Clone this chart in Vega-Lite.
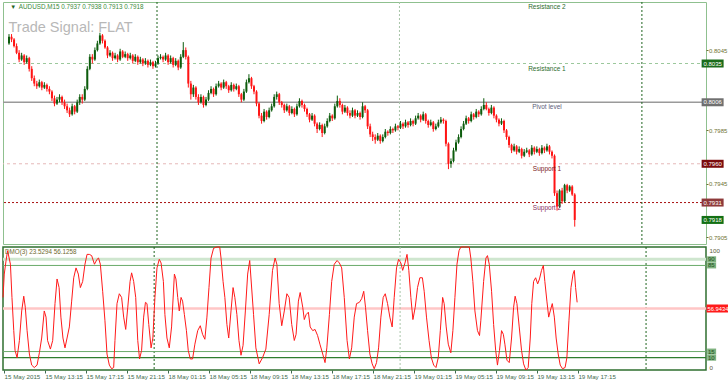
{
"$schema": "https://vega.github.io/schema/vega-lite/v6.json",
"padding": {"left": 0, "top": 1, "right": 0, "bottom": 0},
"autosize": {"type": "pad"},
"spacing": 3,
"bounds": "flush",
"background": "white",
"config": {"font": "Liberation Sans", "view": {"stroke": null}},
"resolve": {"scale": {"color": "independent", "strokeWidth": "independent"}},
"datasets": {
"candles": [
{"i":0,"o":0.8050,"h":0.8057,"l":0.8049,"c":0.8055},
{"i":1,"o":0.8055,"h":0.8057,"l":0.8051,"c":0.8053},
{"i":2,"o":0.8053,"h":0.8054,"l":0.8047,"c":0.8048},
{"i":3,"o":0.8048,"h":0.8050,"l":0.8042,"c":0.8043},
{"i":4,"o":0.8043,"h":0.8045,"l":0.8036,"c":0.8038},
{"i":5,"o":0.8038,"h":0.8043,"l":0.8037,"c":0.8041},
{"i":6,"o":0.8041,"h":0.8042,"l":0.8034,"c":0.8036},
{"i":7,"o":0.8036,"h":0.8041,"l":0.8035,"c":0.8039},
{"i":8,"o":0.8039,"h":0.8040,"l":0.8029,"c":0.8031},
{"i":9,"o":0.8031,"h":0.8033,"l":0.8022,"c":0.8024},
{"i":10,"o":0.8024,"h":0.8026,"l":0.8018,"c":0.8020},
{"i":11,"o":0.8020,"h":0.8022,"l":0.8016,"c":0.8018},
{"i":12,"o":0.8018,"h":0.8023,"l":0.8017,"c":0.8021},
{"i":13,"o":0.8021,"h":0.8022,"l":0.8015,"c":0.8017},
{"i":14,"o":0.8017,"h":0.8021,"l":0.8016,"c":0.8019},
{"i":15,"o":0.8019,"h":0.8020,"l":0.8014,"c":0.8016},
{"i":16,"o":0.8016,"h":0.8018,"l":0.8012,"c":0.8014},
{"i":17,"o":0.8014,"h":0.8015,"l":0.8007,"c":0.8009},
{"i":18,"o":0.8009,"h":0.8011,"l":0.8003,"c":0.8005},
{"i":19,"o":0.8005,"h":0.8010,"l":0.8004,"c":0.8008},
{"i":20,"o":0.8008,"h":0.8012,"l":0.8006,"c":0.8010},
{"i":21,"o":0.8010,"h":0.8011,"l":0.8004,"c":0.8006},
{"i":22,"o":0.8006,"h":0.8008,"l":0.8001,"c":0.8003},
{"i":23,"o":0.8003,"h":0.8005,"l":0.7998,"c":0.8000},
{"i":24,"o":0.8000,"h":0.8002,"l":0.7995,"c":0.7997},
{"i":25,"o":0.7997,"h":0.8005,"l":0.7996,"c":0.8003},
{"i":26,"o":0.8003,"h":0.8004,"l":0.7997,"c":0.7999},
{"i":27,"o":0.7999,"h":0.8008,"l":0.7998,"c":0.8006},
{"i":28,"o":0.8006,"h":0.8012,"l":0.8004,"c":0.8010},
{"i":29,"o":0.8010,"h":0.8012,"l":0.8005,"c":0.8008},
{"i":30,"o":0.8008,"h":0.8018,"l":0.8007,"c":0.8016},
{"i":31,"o":0.8016,"h":0.8033,"l":0.8015,"c":0.8031},
{"i":32,"o":0.8031,"h":0.8042,"l":0.8030,"c":0.8040},
{"i":33,"o":0.8040,"h":0.8042,"l":0.8035,"c":0.8038},
{"i":34,"o":0.8038,"h":0.8047,"l":0.8037,"c":0.8045},
{"i":35,"o":0.8045,"h":0.8052,"l":0.8044,"c":0.8050},
{"i":36,"o":0.8050,"h":0.8058,"l":0.8049,"c":0.8056},
{"i":37,"o":0.8056,"h":0.8057,"l":0.8050,"c":0.8052},
{"i":38,"o":0.8052,"h":0.8053,"l":0.8046,"c":0.8047},
{"i":39,"o":0.8047,"h":0.8048,"l":0.8039,"c":0.8041},
{"i":40,"o":0.8041,"h":0.8045,"l":0.8040,"c":0.8043},
{"i":41,"o":0.8043,"h":0.8044,"l":0.8037,"c":0.8039},
{"i":42,"o":0.8039,"h":0.8043,"l":0.8038,"c":0.8041},
{"i":43,"o":0.8041,"h":0.8042,"l":0.8036,"c":0.8038},
{"i":44,"o":0.8038,"h":0.8046,"l":0.8037,"c":0.8044},
{"i":45,"o":0.8044,"h":0.8045,"l":0.8039,"c":0.8040},
{"i":46,"o":0.8040,"h":0.8044,"l":0.8039,"c":0.8042},
{"i":47,"o":0.8042,"h":0.8043,"l":0.8037,"c":0.8039},
{"i":48,"o":0.8039,"h":0.8043,"l":0.8038,"c":0.8041},
{"i":49,"o":0.8041,"h":0.8042,"l":0.8035,"c":0.8037},
{"i":50,"o":0.8037,"h":0.8042,"l":0.8036,"c":0.8040},
{"i":51,"o":0.8040,"h":0.8041,"l":0.8034,"c":0.8036},
{"i":52,"o":0.8036,"h":0.8040,"l":0.8035,"c":0.8038},
{"i":53,"o":0.8038,"h":0.8039,"l":0.8033,"c":0.8035},
{"i":54,"o":0.8035,"h":0.8039,"l":0.8034,"c":0.8037},
{"i":55,"o":0.8037,"h":0.8038,"l":0.8032,"c":0.8034},
{"i":56,"o":0.8034,"h":0.8038,"l":0.8033,"c":0.8036},
{"i":57,"o":0.8036,"h":0.8037,"l":0.8031,"c":0.8033},
{"i":58,"o":0.8033,"h":0.8037,"l":0.8032,"c":0.8035},
{"i":59,"o":0.8035,"h":0.8041,"l":0.8034,"c":0.8039},
{"i":60,"o":0.8039,"h":0.8042,"l":0.8038,"c":0.8040},
{"i":61,"o":0.8040,"h":0.8041,"l":0.8036,"c":0.8038},
{"i":62,"o":0.8038,"h":0.8043,"l":0.8037,"c":0.8041},
{"i":63,"o":0.8041,"h":0.8042,"l":0.8034,"c":0.8036},
{"i":64,"o":0.8036,"h":0.8041,"l":0.8035,"c":0.8039},
{"i":65,"o":0.8039,"h":0.8040,"l":0.8032,"c":0.8034},
{"i":66,"o":0.8034,"h":0.8039,"l":0.8033,"c":0.8037},
{"i":67,"o":0.8037,"h":0.8038,"l":0.8030,"c":0.8032},
{"i":68,"o":0.8032,"h":0.8042,"l":0.8031,"c":0.8040},
{"i":69,"o":0.8040,"h":0.8051,"l":0.8039,"c":0.8045},
{"i":70,"o":0.8045,"h":0.8047,"l":0.8038,"c":0.8040},
{"i":71,"o":0.8040,"h":0.8041,"l":0.8017,"c":0.8020},
{"i":72,"o":0.8020,"h":0.8022,"l":0.8008,"c":0.8012},
{"i":73,"o":0.8012,"h":0.8019,"l":0.8010,"c":0.8017},
{"i":74,"o":0.8017,"h":0.8018,"l":0.8008,"c":0.8010},
{"i":75,"o":0.8010,"h":0.8012,"l":0.8004,"c":0.8006},
{"i":76,"o":0.8006,"h":0.8012,"l":0.8005,"c":0.8010},
{"i":77,"o":0.8010,"h":0.8011,"l":0.8002,"c":0.8004},
{"i":78,"o":0.8004,"h":0.8010,"l":0.8003,"c":0.8008},
{"i":79,"o":0.8008,"h":0.8015,"l":0.8007,"c":0.8013},
{"i":80,"o":0.8013,"h":0.8018,"l":0.8012,"c":0.8016},
{"i":81,"o":0.8016,"h":0.8017,"l":0.8010,"c":0.8012},
{"i":82,"o":0.8012,"h":0.8020,"l":0.8011,"c":0.8018},
{"i":83,"o":0.8018,"h":0.8022,"l":0.8017,"c":0.8020},
{"i":84,"o":0.8020,"h":0.8021,"l":0.8015,"c":0.8017},
{"i":85,"o":0.8017,"h":0.8023,"l":0.8016,"c":0.8021},
{"i":86,"o":0.8021,"h":0.8022,"l":0.8016,"c":0.8018},
{"i":87,"o":0.8018,"h":0.8019,"l":0.8013,"c":0.8015},
{"i":88,"o":0.8015,"h":0.8021,"l":0.8014,"c":0.8019},
{"i":89,"o":0.8019,"h":0.8020,"l":0.8014,"c":0.8016},
{"i":90,"o":0.8016,"h":0.8020,"l":0.8015,"c":0.8018},
{"i":91,"o":0.8018,"h":0.8019,"l":0.8010,"c":0.8012},
{"i":92,"o":0.8012,"h":0.8013,"l":0.8006,"c":0.8008},
{"i":93,"o":0.8008,"h":0.8016,"l":0.8007,"c":0.8014},
{"i":94,"o":0.8014,"h":0.8023,"l":0.8013,"c":0.8021},
{"i":95,"o":0.8021,"h":0.8027,"l":0.8020,"c":0.8024},
{"i":96,"o":0.8024,"h":0.8025,"l":0.8016,"c":0.8018},
{"i":97,"o":0.8018,"h":0.8019,"l":0.8012,"c":0.8014},
{"i":98,"o":0.8014,"h":0.8015,"l":0.8003,"c":0.8005},
{"i":99,"o":0.8005,"h":0.8006,"l":0.7994,"c":0.7996},
{"i":100,"o":0.7996,"h":0.7998,"l":0.7990,"c":0.7992},
{"i":101,"o":0.7992,"h":0.8001,"l":0.7991,"c":0.7999},
{"i":102,"o":0.7999,"h":0.8000,"l":0.7993,"c":0.7995},
{"i":103,"o":0.7995,"h":0.8002,"l":0.7994,"c":0.8000},
{"i":104,"o":0.8000,"h":0.8005,"l":0.7999,"c":0.8003},
{"i":105,"o":0.8003,"h":0.8012,"l":0.8002,"c":0.8010},
{"i":106,"o":0.8010,"h":0.8014,"l":0.8008,"c":0.8012},
{"i":107,"o":0.8012,"h":0.8013,"l":0.8004,"c":0.8006},
{"i":108,"o":0.8006,"h":0.8007,"l":0.8002,"c":0.8004},
{"i":109,"o":0.8004,"h":0.8005,"l":0.7998,"c":0.8000},
{"i":110,"o":0.8000,"h":0.8005,"l":0.7999,"c":0.8003},
{"i":111,"o":0.8003,"h":0.8004,"l":0.7996,"c":0.7998},
{"i":112,"o":0.7998,"h":0.8003,"l":0.7997,"c":0.8001},
{"i":113,"o":0.8001,"h":0.8002,"l":0.7995,"c":0.7997},
{"i":114,"o":0.7997,"h":0.8005,"l":0.7996,"c":0.8003},
{"i":115,"o":0.8003,"h":0.8009,"l":0.8002,"c":0.8007},
{"i":116,"o":0.8007,"h":0.8008,"l":0.8002,"c":0.8004},
{"i":117,"o":0.8004,"h":0.8005,"l":0.7999,"c":0.8001},
{"i":118,"o":0.8001,"h":0.8002,"l":0.7995,"c":0.7997},
{"i":119,"o":0.7997,"h":0.7998,"l":0.7991,"c":0.7993},
{"i":120,"o":0.7993,"h":0.7998,"l":0.7992,"c":0.7996},
{"i":121,"o":0.7996,"h":0.7997,"l":0.7988,"c":0.7990},
{"i":122,"o":0.7990,"h":0.7991,"l":0.7983,"c":0.7986},
{"i":123,"o":0.7986,"h":0.7991,"l":0.7985,"c":0.7989},
{"i":124,"o":0.7989,"h":0.7990,"l":0.7980,"c":0.7983},
{"i":125,"o":0.7983,"h":0.7990,"l":0.7982,"c":0.7988},
{"i":126,"o":0.7988,"h":0.7994,"l":0.7987,"c":0.7992},
{"i":127,"o":0.7992,"h":0.7998,"l":0.7991,"c":0.7996},
{"i":128,"o":0.7996,"h":0.7997,"l":0.7992,"c":0.7994},
{"i":129,"o":0.7994,"h":0.8005,"l":0.7993,"c":0.8003},
{"i":130,"o":0.8003,"h":0.8011,"l":0.8002,"c":0.8007},
{"i":131,"o":0.8007,"h":0.8009,"l":0.8002,"c":0.8004},
{"i":132,"o":0.8004,"h":0.8005,"l":0.7997,"c":0.7999},
{"i":133,"o":0.7999,"h":0.8004,"l":0.7998,"c":0.8002},
{"i":134,"o":0.8002,"h":0.8003,"l":0.7996,"c":0.7998},
{"i":135,"o":0.7998,"h":0.8000,"l":0.7994,"c":0.7996},
{"i":136,"o":0.7996,"h":0.8002,"l":0.7995,"c":0.8000},
{"i":137,"o":0.8000,"h":0.8001,"l":0.7994,"c":0.7996},
{"i":138,"o":0.7996,"h":0.8000,"l":0.7995,"c":0.7998},
{"i":139,"o":0.7998,"h":0.7999,"l":0.7993,"c":0.7995},
{"i":140,"o":0.7995,"h":0.8006,"l":0.7994,"c":0.8003},
{"i":141,"o":0.8003,"h":0.8004,"l":0.7998,"c":0.8000},
{"i":142,"o":0.8000,"h":0.8001,"l":0.7986,"c":0.7988},
{"i":143,"o":0.7988,"h":0.7990,"l":0.7980,"c":0.7982},
{"i":144,"o":0.7982,"h":0.7984,"l":0.7977,"c":0.7980},
{"i":145,"o":0.7980,"h":0.7982,"l":0.7975,"c":0.7978},
{"i":146,"o":0.7978,"h":0.7983,"l":0.7977,"c":0.7981},
{"i":147,"o":0.7981,"h":0.7982,"l":0.7975,"c":0.7977},
{"i":148,"o":0.7977,"h":0.7982,"l":0.7976,"c":0.7980},
{"i":149,"o":0.7980,"h":0.7986,"l":0.7979,"c":0.7984},
{"i":150,"o":0.7984,"h":0.7985,"l":0.7981,"c":0.7983},
{"i":151,"o":0.7983,"h":0.7988,"l":0.7982,"c":0.7986},
{"i":152,"o":0.7986,"h":0.7987,"l":0.7983,"c":0.7985},
{"i":153,"o":0.7985,"h":0.7990,"l":0.7984,"c":0.7988},
{"i":154,"o":0.7988,"h":0.7989,"l":0.7985,"c":0.7987},
{"i":155,"o":0.7987,"h":0.7992,"l":0.7986,"c":0.7990},
{"i":156,"o":0.7990,"h":0.7991,"l":0.7986,"c":0.7988},
{"i":157,"o":0.7988,"h":0.7993,"l":0.7987,"c":0.7991},
{"i":158,"o":0.7991,"h":0.7992,"l":0.7987,"c":0.7989},
{"i":159,"o":0.7989,"h":0.7994,"l":0.7988,"c":0.7992},
{"i":160,"o":0.7992,"h":0.7993,"l":0.7988,"c":0.7990},
{"i":161,"o":0.7990,"h":0.7996,"l":0.7989,"c":0.7994},
{"i":162,"o":0.7994,"h":0.7998,"l":0.7993,"c":0.7996},
{"i":163,"o":0.7996,"h":0.7997,"l":0.7991,"c":0.7993},
{"i":164,"o":0.7993,"h":0.7999,"l":0.7992,"c":0.7997},
{"i":165,"o":0.7997,"h":0.7998,"l":0.7990,"c":0.7992},
{"i":166,"o":0.7992,"h":0.7993,"l":0.7987,"c":0.7989},
{"i":167,"o":0.7989,"h":0.7993,"l":0.7988,"c":0.7991},
{"i":168,"o":0.7991,"h":0.7992,"l":0.7984,"c":0.7986},
{"i":169,"o":0.7986,"h":0.7990,"l":0.7985,"c":0.7988},
{"i":170,"o":0.7988,"h":0.7993,"l":0.7987,"c":0.7991},
{"i":171,"o":0.7991,"h":0.7995,"l":0.7990,"c":0.7993},
{"i":172,"o":0.7993,"h":0.7994,"l":0.7990,"c":0.7992},
{"i":173,"o":0.7992,"h":0.7993,"l":0.7973,"c":0.7975},
{"i":174,"o":0.7975,"h":0.7976,"l":0.7956,"c":0.7960},
{"i":175,"o":0.7960,"h":0.7964,"l":0.7957,"c":0.7962},
{"i":176,"o":0.7962,"h":0.7972,"l":0.7961,"c":0.7970},
{"i":177,"o":0.7970,"h":0.7978,"l":0.7969,"c":0.7976},
{"i":178,"o":0.7976,"h":0.7982,"l":0.7975,"c":0.7980},
{"i":179,"o":0.7980,"h":0.7988,"l":0.7979,"c":0.7986},
{"i":180,"o":0.7986,"h":0.7992,"l":0.7985,"c":0.7990},
{"i":181,"o":0.7990,"h":0.7996,"l":0.7989,"c":0.7994},
{"i":182,"o":0.7994,"h":0.7995,"l":0.7990,"c":0.7992},
{"i":183,"o":0.7992,"h":0.7999,"l":0.7991,"c":0.7997},
{"i":184,"o":0.7997,"h":0.7998,"l":0.7993,"c":0.7995},
{"i":185,"o":0.7995,"h":0.8001,"l":0.7994,"c":0.7999},
{"i":186,"o":0.7999,"h":0.8000,"l":0.7995,"c":0.7997},
{"i":187,"o":0.7997,"h":0.8003,"l":0.7996,"c":0.8001},
{"i":188,"o":0.8001,"h":0.8009,"l":0.8000,"c":0.8004},
{"i":189,"o":0.8004,"h":0.8006,"l":0.8000,"c":0.8001},
{"i":190,"o":0.8001,"h":0.8002,"l":0.7996,"c":0.7998},
{"i":191,"o":0.7998,"h":0.8004,"l":0.7997,"c":0.8002},
{"i":192,"o":0.8002,"h":0.8003,"l":0.7994,"c":0.7996},
{"i":193,"o":0.7996,"h":0.7997,"l":0.7991,"c":0.7993},
{"i":194,"o":0.7993,"h":0.7994,"l":0.7988,"c":0.7990},
{"i":195,"o":0.7990,"h":0.7994,"l":0.7989,"c":0.7992},
{"i":196,"o":0.7992,"h":0.7993,"l":0.7983,"c":0.7985},
{"i":197,"o":0.7985,"h":0.7986,"l":0.7978,"c":0.7980},
{"i":198,"o":0.7980,"h":0.7981,"l":0.7972,"c":0.7974},
{"i":199,"o":0.7974,"h":0.7975,"l":0.7968,"c":0.7970},
{"i":200,"o":0.7970,"h":0.7975,"l":0.7969,"c":0.7973},
{"i":201,"o":0.7973,"h":0.7974,"l":0.7967,"c":0.7969},
{"i":202,"o":0.7969,"h":0.7973,"l":0.7968,"c":0.7971},
{"i":203,"o":0.7971,"h":0.7972,"l":0.7964,"c":0.7966},
{"i":204,"o":0.7966,"h":0.7971,"l":0.7965,"c":0.7969},
{"i":205,"o":0.7969,"h":0.7972,"l":0.7968,"c":0.7970},
{"i":206,"o":0.7970,"h":0.7971,"l":0.7965,"c":0.7967},
{"i":207,"o":0.7967,"h":0.7974,"l":0.7966,"c":0.7972},
{"i":208,"o":0.7972,"h":0.7973,"l":0.7967,"c":0.7969},
{"i":209,"o":0.7969,"h":0.7973,"l":0.7968,"c":0.7971},
{"i":210,"o":0.7971,"h":0.7972,"l":0.7966,"c":0.7968},
{"i":211,"o":0.7968,"h":0.7974,"l":0.7967,"c":0.7972},
{"i":212,"o":0.7972,"h":0.7973,"l":0.7968,"c":0.7970},
{"i":213,"o":0.7970,"h":0.7975,"l":0.7969,"c":0.7973},
{"i":214,"o":0.7973,"h":0.7974,"l":0.7967,"c":0.7969},
{"i":215,"o":0.7969,"h":0.7970,"l":0.7964,"c":0.7966},
{"i":216,"o":0.7966,"h":0.7967,"l":0.7936,"c":0.7938},
{"i":217,"o":0.7938,"h":0.7940,"l":0.7925,"c":0.7928},
{"i":218,"o":0.7928,"h":0.7941,"l":0.7927,"c":0.7940},
{"i":219,"o":0.7940,"h":0.7942,"l":0.7930,"c":0.7932},
{"i":220,"o":0.7932,"h":0.7945,"l":0.7931,"c":0.7944},
{"i":221,"o":0.7944,"h":0.7945,"l":0.7938,"c":0.7940},
{"i":222,"o":0.7940,"h":0.7944,"l":0.7939,"c":0.7943},
{"i":223,"o":0.7943,"h":0.7944,"l":0.7936,"c":0.7937},
{"i":224,"o":0.7937,"h":0.7938,"l":0.7913,"c":0.7918}
],
"osc": [
{"t":-0.4,"v":59},{"t":0.1,"v":78},{"t":0.8,"v":89},{"t":1.4,"v":97},{"t":2.5,"v":86},{"t":3.1,"v":59},{"t":3.8,"v":32},{"t":4.3,"v":16},{"t":5.1,"v":10},{"t":6.0,"v":24},{"t":6.9,"v":48},{"t":7.7,"v":60},{"t":8.3,"v":51},{"t":9.0,"v":32},{"t":9.9,"v":13},{"t":10.8,"v":4},{"t":11.8,"v":2},{"t":12.9,"v":4},{"t":13.8,"v":14},{"t":14.7,"v":26},{"t":15.7,"v":48},{"t":16.4,"v":43},{"t":17.0,"v":24},{"t":18.1,"v":17},{"t":19.0,"v":24},{"t":19.9,"v":54},{"t":20.7,"v":74},{"t":21.5,"v":67},{"t":22.2,"v":43},{"t":23.0,"v":26},{"t":23.8,"v":18},{"t":24.6,"v":26},{"t":25.5,"v":35},{"t":26.4,"v":56},{"t":27.2,"v":75},{"t":28.1,"v":83},{"t":29.0,"v":78},{"t":29.8,"v":67},{"t":30.7,"v":72},{"t":31.6,"v":86},{"t":32.4,"v":94},{"t":33.3,"v":94},{"t":34.2,"v":93},{"t":35.3,"v":86},{"t":36.3,"v":90},{"t":36.9,"v":91},{"t":37.6,"v":86},{"t":38.5,"v":64},{"t":39.4,"v":40},{"t":40.2,"v":13},{"t":41.1,"v":4},{"t":42.0,"v":1},{"t":42.8,"v":2},{"t":43.3,"v":24},{"t":44.1,"v":54},{"t":45.0,"v":62},{"t":45.9,"v":59},{"t":46.7,"v":43},{"t":47.5,"v":33},{"t":48.3,"v":51},{"t":49.2,"v":72},{"t":49.8,"v":79},{"t":50.6,"v":72},{"t":51.4,"v":59},{"t":52.2,"v":24},{"t":52.9,"v":9},{"t":53.7,"v":16},{"t":54.5,"v":43},{"t":55.2,"v":55},{"t":55.8,"v":54},{"t":56.5,"v":37},{"t":57.4,"v":18},{"t":58.1,"v":26},{"t":58.9,"v":59},{"t":59.7,"v":83},{"t":60.6,"v":90},{"t":61.3,"v":87},{"t":62.2,"v":72},{"t":62.8,"v":45},{"t":63.6,"v":26},{"t":64.5,"v":18},{"t":65.4,"v":35},{"t":66.5,"v":78},{"t":67.1,"v":74},{"t":67.8,"v":59},{"t":68.4,"v":48},{"t":69.1,"v":59},{"t":69.7,"v":56},{"t":70.4,"v":45},{"t":71.2,"v":32},{"t":71.9,"v":16},{"t":72.7,"v":9},{"t":73.6,"v":9},{"t":74.5,"v":21},{"t":75.6,"v":32},{"t":76.6,"v":36},{"t":77.5,"v":29},{"t":78.4,"v":25},{"t":79.2,"v":43},{"t":80.0,"v":67},{"t":80.8,"v":91},{"t":81.8,"v":99},{"t":83.1,"v":100},{"t":84.2,"v":100},{"t":84.7,"v":91},{"t":85.5,"v":72},{"t":86.2,"v":59},{"t":87.0,"v":37},{"t":87.7,"v":26},{"t":88.6,"v":48},{"t":89.4,"v":67},{"t":90.1,"v":59},{"t":90.9,"v":45},{"t":91.7,"v":24},{"t":92.5,"v":12},{"t":93.3,"v":20},{"t":94.2,"v":48},{"t":95.1,"v":78},{"t":95.9,"v":89},
{"t":97.4,"v":45},{"t":98.3,"v":18},{"t":99.6,"v":5},{"t":100.9,"v":10},{"t":102.2,"v":17},{"t":103.5,"v":45},{"t":104.8,"v":81},{"t":105.8,"v":91},{"t":106.5,"v":86},{"t":107.4,"v":54},{"t":108.4,"v":36},{"t":109.4,"v":48},{"t":110.4,"v":62},{"t":111.3,"v":59},{"t":112.3,"v":37},{"t":113.3,"v":24},{"t":114.0,"v":29},{"t":114.9,"v":56},{"t":115.6,"v":63},{"t":116.6,"v":51},{"t":117.2,"v":41},{"t":117.9,"v":45},{"t":118.8,"v":47},{"t":119.5,"v":35},{"t":120.5,"v":32},{"t":121.4,"v":33},{"t":122.4,"v":28},{"t":123.3,"v":21},{"t":124.4,"v":13},{"t":125.3,"v":6},{"t":126.0,"v":18},{"t":127.0,"v":45},{"t":127.9,"v":72},{"t":128.9,"v":86},{"t":130.0,"v":89},{"t":130.9,"v":87},{"t":131.8,"v":83},{"t":132.8,"v":59},{"t":133.9,"v":24},{"t":134.8,"v":9},{"t":135.7,"v":18},{"t":136.7,"v":43},{"t":137.6,"v":54},{"t":138.7,"v":55},{"t":139.6,"v":58},{"t":140.4,"v":64},{"t":141.1,"v":51},{"t":141.9,"v":32},{"t":142.8,"v":13},{"t":143.7,"v":5},{"t":144.5,"v":1},{"t":145.4,"v":6},{"t":146.2,"v":18},{"t":147.1,"v":43},{"t":148.0,"v":59},{"t":148.8,"v":62},{"t":149.7,"v":54},{"t":150.6,"v":43},{"t":151.5,"v":35},{"t":152.3,"v":59},{"t":153.2,"v":83},{"t":154.0,"v":90},{"t":154.9,"v":87},{"t":155.6,"v":81},{"t":156.5,"v":87},{"t":157.3,"v":94},{"t":158.0,"v":81},{"t":158.8,"v":59},{"t":159.6,"v":41},{"t":160.5,"v":51},{"t":161.4,"v":67},{"t":162.3,"v":75},{"t":163.3,"v":75},{"t":164.0,"v":64},{"t":164.9,"v":43},{"t":165.9,"v":24},{"t":166.8,"v":10},{"t":167.7,"v":4},{"t":168.6,"v":2},{"t":169.5,"v":10},{"t":170.3,"v":32},{"t":171.2,"v":59},{"t":171.8,"v":54},{"t":172.6,"v":35},{"t":173.4,"v":21},{"t":174.4,"v":14},{"t":175.2,"v":32},{"t":176.0,"v":59},{"t":176.8,"v":86},{"t":177.6,"v":97},{"t":178.3,"v":100},{"t":180.3,"v":100},{"t":181.6,"v":100},{"t":182.2,"v":91},{"t":183.0,"v":72},{"t":183.8,"v":48},{"t":184.8,"v":32},{"t":185.6,"v":28},
{"t":186.1,"v":40},{"t":187.2,"v":72},{"t":188.1,"v":91},{"t":188.7,"v":93},{"t":189.4,"v":86},{"t":190.3,"v":64},{"t":191.1,"v":37},{"t":191.9,"v":16},{"t":192.6,"v":4},{"t":193.4,"v":16},{"t":194.2,"v":32},{"t":194.9,"v":29},{"t":195.5,"v":21},{"t":196.3,"v":8},{"t":197.2,"v":6},{"t":198.1,"v":26},{"t":198.9,"v":51},{"t":199.5,"v":60},{"t":200.2,"v":54},{"t":201.1,"v":35},{"t":202.0,"v":16},{"t":202.8,"v":5},{"t":203.7,"v":0},{"t":204.6,"v":2},{"t":205.4,"v":26},{"t":206.0,"v":54},{"t":206.7,"v":72},{"t":207.5,"v":75},{"t":208.3,"v":70},{"t":209.0,"v":74},{"t":209.8,"v":81},{"t":210.5,"v":85},{"t":211.1,"v":72},{"t":211.9,"v":56},{"t":212.6,"v":43},{"t":213.2,"v":48},{"t":214.0,"v":54},{"t":214.8,"v":43},{"t":215.5,"v":26},{"t":216.3,"v":13},{"t":217.1,"v":4},{"t":218.0,"v":1},{"t":219.0,"v":2},{"t":219.7,"v":10},{"t":220.5,"v":40},{"t":221.3,"v":67},{"t":222.1,"v":78},{"t":222.6,"v":81},{"t":223.1,"v":67},{"t":223.7,"v":55}
]
},
"vconcat": [
{
"width": 703,
"height": 242,
"view": {"stroke": "#8fc08f", "strokeWidth": 1},
"resolve": {"scale": {"color": "independent"}},
"layer": [
{
"data": {"values": [{"p": 0.8035}]},
"mark": {"type": "rule", "color": "#9cc89c", "strokeDash": [3, 3], "strokeWidth": 1},
"encoding": {
"y": {"field": "p", "type": "quantitative", "scale": {"domain": [0.79, 0.8081], "nice": false, "zero": false},
"axis": {"orient": "right", "values": [0.8065, 0.8045, 0.8025, 0.7985, 0.7965, 0.7945, 0.7925, 0.7905], "format": ".4f", "title": null, "domain": false, "grid": false, "tickSize": 2, "tickColor": "#6e7232", "labelPadding": 0.5, "labelFontSize": 6, "labelColor": "#6e7232", "labelFont": "Liberation Sans"}}
}
},
{
"data": {"values": [{"p": 0.8006}]},
"mark": {"type": "rule", "color": "#9a9a9a", "strokeWidth": 1.5},
"encoding": {"y": {"field": "p", "type": "quantitative"}}
},
{
"data": {"values": [{"p": 0.7960}]},
"mark": {"type": "rule", "color": "#e6b8b8", "strokeDash": [3, 3], "strokeWidth": 1},
"encoding": {"y": {"field": "p", "type": "quantitative"}}
},
{
"data": {"values": [{"p": 0.7931}]},
"mark": {"type": "rule", "color": "#a81010", "strokeDash": [2, 2], "strokeWidth": 1},
"encoding": {"y": {"field": "p", "type": "quantitative"}}
},
{
"data": {"values": [{"s": 58.6}, {"s": 250.6}]},
"mark": {"type": "rule", "strokeDash": [2, 2], "strokeWidth": 1, "color": "#1e641e"},
"encoding": {
"x": {"field": "s", "type": "quantitative", "scale": {"domain": [-0.4, 274], "nice": false, "zero": false}, "axis": null}
}
},
{
"data": {"values": [{"s": 154.6}]},
"mark": {"type": "rule", "strokeDash": [2, 2], "strokeWidth": 1, "color": "#a8c4a8"},
"encoding": {
"x": {"field": "s", "type": "quantitative", "axis": null}
}
},
{
"data": {"name": "candles"},
"mark": {"type": "rule", "strokeWidth": 1},
"encoding": {
"x": {"field": "i", "type": "quantitative", "axis": null},
"y": {"field": "l", "type": "quantitative"},
"y2": {"field": "h"},
"color": {"condition": {"test": "datum.c >= datum.o", "value": "#0d5c0d"}, "value": "#ff1414"}
}
},
{
"data": {"name": "candles"},
"mark": {"type": "bar", "width": 2},
"encoding": {
"x": {"field": "i", "type": "quantitative", "axis": null},
"y": {"field": "o", "type": "quantitative"},
"y2": {"field": "c"},
"color": {"condition": {"test": "datum.c >= datum.o", "value": "#0d5c0d"}, "value": "#ff1414"}
}
},
{
"data": {"values": [{"p": 0.8081, "t": "Resistance 2"}, {"p": 0.8035, "t": "Resistance 1"}]},
"mark": {"type": "text", "fontSize": 6.5, "align": "center", "baseline": "middle", "dy": 5, "color": "#2e6b2e"},
"encoding": {
"x": {"datum": 213, "type": "quantitative", "axis": null},
"y": {"field": "p", "type": "quantitative"},
"text": {"field": "t"}
}
},
{
"data": {"values": [{"p": 0.8006, "t": "Pivot level"}]},
"mark": {"type": "text", "fontSize": 6.5, "align": "center", "baseline": "middle", "dy": 5, "color": "#5e5e78"},
"encoding": {
"x": {"datum": 213, "type": "quantitative", "axis": null},
"y": {"field": "p", "type": "quantitative"},
"text": {"field": "t"}
}
},
{
"data": {"values": [{"p": 0.7960, "t": "Support 1"}]},
"mark": {"type": "text", "fontSize": 6.5, "align": "center", "baseline": "middle", "dy": 5, "color": "#7a1818"},
"encoding": {
"x": {"datum": 213, "type": "quantitative", "axis": null},
"y": {"field": "p", "type": "quantitative"},
"text": {"field": "t"}
}
},
{
"data": {"values": [{"p": 0.7931, "t": "Support 2"}]},
"mark": {"type": "text", "fontSize": 6.5, "align": "center", "baseline": "middle", "dy": 5, "color": "#8a3060"},
"encoding": {
"x": {"datum": 213, "type": "quantitative", "axis": null},
"y": {"field": "p", "type": "quantitative"},
"text": {"field": "t"}
}
},
{
"data": {"values": [{"p": 0.8035, "k": "R1"}, {"p": 0.8006, "k": "P"}, {"p": 0.7960, "k": "S1"}, {"p": 0.7931, "k": "S2"}, {"p": 0.7918, "k": "Last"}]},
"mark": {"type": "tick", "orient": "horizontal", "size": 22, "thickness": 8, "opacity": 1},
"encoding": {
"x": {"datum": 278.6, "type": "quantitative", "axis": null},
"y": {"field": "p", "type": "quantitative"},
"color": {"field": "k", "type": "nominal", "scale": {"domain": ["R1", "P", "S1", "S2", "Last"], "range": ["#1a6b1a", "#707070", "#7b0c0c", "#8e3a3a", "#137013"]}, "legend": null}
}
},
{
"data": {"values": [{"p": 0.8035, "t": "0.8035"}, {"p": 0.8006, "t": "0.8006"}, {"p": 0.7960, "t": "0.7960"}, {"p": 0.7931, "t": "0.7931"}, {"p": 0.7918, "t": "0.7918"}]},
"mark": {"type": "text", "fontSize": 6, "align": "left", "baseline": "middle", "dx": 2.5, "color": "white"},
"encoding": {
"x": {"datum": 274, "type": "quantitative", "axis": null},
"y": {"field": "p", "type": "quantitative"},
"text": {"field": "t"}
}
},
{
"data": {"values": [{"p": 0.80775, "t": "AUDUSD,M15  0.7937 0.7938 0.7913 0.7918"}]},
"mark": {"type": "text", "fontSize": 6.3, "align": "left", "baseline": "middle", "color": "#3a8a3a"},
"encoding": {
"x": {"datum": 3.9, "type": "quantitative", "axis": null},
"y": {"field": "p", "type": "quantitative"},
"text": {"field": "t"}
}
},
{
"data": {"values": [{"p": 0.80775, "t": "▼"}]},
"mark": {"type": "text", "fontSize": 6, "align": "left", "baseline": "middle", "color": "#1e641e"},
"encoding": {
"x": {"datum": 0.5, "type": "quantitative", "axis": null},
"y": {"field": "p", "type": "quantitative"},
"text": {"field": "t"}
}
},
{
"data": {"values": [{"p": 0.80588, "t": "Trade Signal: FLAT"}]},
"mark": {"type": "text", "fontSize": 14.5, "align": "left", "baseline": "alphabetic", "color": "#b8b8b8"},
"encoding": {
"x": {"datum": -0.2, "type": "quantitative", "axis": null},
"y": {"field": "p", "type": "quantitative"},
"text": {"field": "t"}
}
}
]
},
{
"width": 703,
"height": 123,
"view": {"stroke": "#2f6f2f", "strokeWidth": 1.5},
"layer": [
{
"data": {"values": [{"s": 58.6}, {"s": 250.6}]},
"mark": {"type": "rule", "strokeDash": [2, 2], "strokeWidth": 1, "color": "#1e641e"},
"encoding": {
"x": {"field": "s", "type": "quantitative", "scale": {"domain": [-0.4, 274], "nice": false, "zero": false},
"axis": {"values": [0, 16, 32, 48, 64, 80, 96, 112, 128, 144, 160, 176, 192, 208, 224], "labelExpr": "['15 May 2015','15 May 13:15','15 May 17:15','15 May 21:15','18 May 01:15','18 May 05:15','18 May 09:15','18 May 13:15','18 May 17:15','18 May 21:15','19 May 01:15','19 May 05:15','19 May 09:15','19 May 13:15','19 May 17:15'][round(datum.value/16)]", "title": null, "domain": false, "grid": false, "tickSize": 3, "tickColor": "#3f6b4f", "labelAlign": "left", "labelPadding": 0, "labelFontSize": 6.2, "labelColor": "#3f6b4f", "labelFont": "Liberation Sans", "labelOverlap": false, "labelFlush": false, "labelBound": false}}
}
},
{
"data": {"values": [{"v": 90}]},
"mark": {"type": "rule", "color": "#cfe6cf", "strokeWidth": 3},
"encoding": {
"y": {"field": "v", "type": "quantitative", "scale": {"domain": [0, 100], "nice": false, "zero": false},
"axis": {"orient": "right", "values": [0, 100], "title": null, "domain": false, "grid": false, "ticks": false, "labelFlush": true, "labelPadding": 3, "labelFontSize": 6.2, "labelColor": "#5a5a3a", "labelFont": "Liberation Sans"}}
}
},
{
"data": {"values": [{"v": 85}, {"v": 15}]},
"mark": {"type": "rule", "color": "#6aaa6a", "strokeWidth": 1},
"encoding": {"y": {"field": "v", "type": "quantitative"}}
},
{
"data": {"values": [{"v": 50}]},
"mark": {"type": "rule", "color": "#ffc6c6", "strokeWidth": 2.5},
"encoding": {"y": {"field": "v", "type": "quantitative"}}
},
{
"data": {"values": [{"v": 10}]},
"mark": {"type": "rule", "color": "#2e7d2e", "strokeWidth": 1.2},
"encoding": {"y": {"field": "v", "type": "quantitative"}}
},
{
"data": {"values": [{"s": 154.6}]},
"mark": {"type": "rule", "strokeDash": [2, 2], "strokeWidth": 1, "color": "#a8c4a8"},
"encoding": {
"x": {"field": "s", "type": "quantitative"}
}
},
{
"data": {"name": "osc"},
"mark": {"type": "line", "color": "#ff1a1a", "strokeWidth": 1},
"encoding": {
"x": {"field": "t", "type": "quantitative"},
"y": {"field": "v", "type": "quantitative"}
}
},
{
"data": {"values": [{"v": 96, "t": "DMO(3) 23.5294 56.1258"}]},
"mark": {"type": "text", "fontSize": 6.3, "align": "left", "baseline": "middle", "color": "#6e6a2e"},
"encoding": {
"x": {"datum": 0.4, "type": "quantitative"},
"y": {"field": "v", "type": "quantitative"},
"text": {"field": "t"}
}
},
{
"data": {"values": [{"v": 90}, {"v": 85}, {"v": 15}, {"v": 10}]},
"mark": {"type": "tick", "orient": "horizontal", "size": 9, "thickness": 6, "opacity": 1, "color": "#7fb27f"},
"encoding": {
"x": {"datum": 276.2, "type": "quantitative"},
"y": {"field": "v", "type": "quantitative"}
}
},
{
"data": {"values": [{"v": 90, "t": "90"}, {"v": 85, "t": "85"}, {"v": 15, "t": "15"}, {"v": 10, "t": "10"}]},
"mark": {"type": "text", "fontSize": 6, "align": "left", "baseline": "middle", "dx": 2, "color": "#1e501e"},
"encoding": {
"x": {"datum": 274, "type": "quantitative"},
"y": {"field": "v", "type": "quantitative"},
"text": {"field": "t"}
}
},
{
"data": {"values": [{"v": 50}]},
"mark": {"type": "tick", "orient": "horizontal", "size": 24, "thickness": 8, "opacity": 1, "color": "#ff1a1a"},
"encoding": {
"x": {"datum": 278.9, "type": "quantitative"},
"y": {"field": "v", "type": "quantitative"}
}
},
{
"data": {"values": [{"v": 50, "t": "56.9434"}]},
"mark": {"type": "text", "fontSize": 5.8, "align": "left", "baseline": "middle", "dx": 1.5, "color": "white"},
"encoding": {
"x": {"datum": 274, "type": "quantitative"},
"y": {"field": "v", "type": "quantitative"},
"text": {"field": "t"}
}
}
]
}
]
}
